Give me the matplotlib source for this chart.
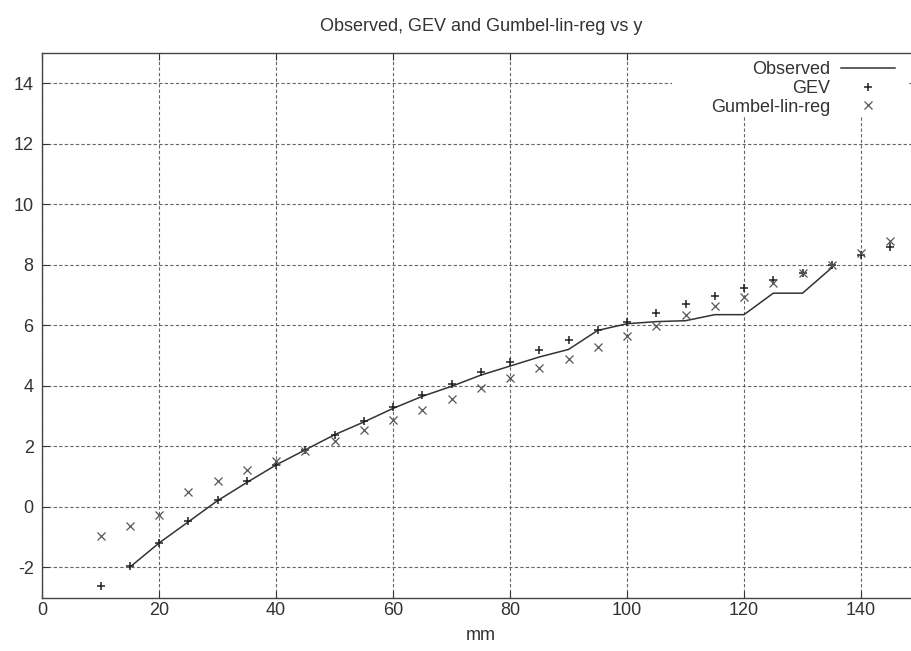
import matplotlib
matplotlib.use("Agg")
import matplotlib.pyplot as plt
import numpy as np

x_obs = [15, 20, 25, 30, 35, 40, 45, 50, 55, 60, 65, 70, 75, 80, 85,
         90, 95, 100, 105, 110, 115, 120, 125, 130, 135]
y_obs = [-2.0, -1.2, -0.5, 0.2, 0.8, 1.38, 1.88, 2.38, 2.8, 3.25, 3.65,
         3.98, 4.35, 4.65, 4.95, 5.2, 5.83, 6.05, 6.12, 6.15, 6.35, 6.35,
         7.06, 7.06, 7.9]

x_fit = [10, 15, 20, 25, 30, 35, 40, 45, 50, 55, 60, 65, 70, 75, 80, 85,
         90, 95, 100, 105, 110, 115, 120, 125, 130, 135, 140, 145]
y_gev = [-2.63, -1.97, -1.2, -0.48, 0.21, 0.84, 1.39, 1.88, 2.38, 2.82,
         3.3, 3.7, 4.05, 4.44, 4.8, 5.19, 5.52, 5.85, 6.1, 6.4, 6.7, 6.97,
         7.23, 7.5, 7.72, 8.0, 8.33, 8.6]
y_gumbel = [-0.98, -0.65, -0.26, 0.5, 0.86, 1.22, 1.5, 1.85, 2.16, 2.55,
            2.88, 3.2, 3.56, 3.92, 4.25, 4.6, 4.9, 5.27, 5.63, 5.96, 6.35,
            6.64, 6.95, 7.4, 7.72, 8.0, 8.4, 8.77]

plt.rcParams['font.family'] = ['Liberation Sans', 'DejaVu Sans']
plt.rcParams['axes.unicode_minus'] = False

fig = plt.figure(figsize=(9.11, 6.51), dpi=100)
# the plot box runs past the right edge of the picture, as in the reference
ax = fig.add_axes([42 / 911, 1 - 597.5 / 651, 877.5 / 911, 544.5 / 651])

ax.plot(x_obs, y_obs, color='#333333', lw=1.1, label='Observed')
ax.plot(x_fit, y_gev, ls='none', marker='+', ms=5.5, mew=1.1,
        color='#222222', label='GEV')
ax.plot(x_fit, y_gumbel, ls='none', marker='x', ms=6, mew=0.9,
        color='#555555', label='Gumbel-lin-reg')

ax.set_xlim(0, 150)
ax.set_ylim(-3, 15)
ax.set_xticks(np.arange(0, 141, 20))
ax.set_yticks(np.arange(-2, 15, 2))
ax.tick_params(direction='in', top=True, right=True, length=5, pad=3,
               labelsize=13, colors='#333333')
ax.tick_params(axis='y', pad=6)
ax.grid(True, color='#666666', ls=(0, (3, 2)), lw=0.8)
for s in ax.spines.values():
    s.set_color('#444444')
    s.set_linewidth(1.0)
ax.spines['right'].set_visible(False)

# white block behind the key, hiding the grid there
ax.add_patch(plt.Rectangle((672 / 911, 1 - 116 / 651), 235 / 911, 62 / 651,
                           transform=fig.transFigure, facecolor='white',
                           edgecolor='none', zorder=1.8))

ax.set_title("Observed, GEV and Gumbel-lin-reg vs y", fontsize=13,
             color='#333333', pad=16)
ax.set_xlabel("mm", fontsize=13, color='#333333', labelpad=6)

ax.legend(loc='upper right', bbox_to_anchor=(904 / 911, 1 - 52 / 651),
          bbox_transform=fig.transFigure, frameon=False, markerfirst=False,
          fontsize=13, handlelength=3.0, labelspacing=0.1, borderpad=0,
          handletextpad=0.6, labelcolor='#333333')

fig.savefig("out.png", dpi=100)
